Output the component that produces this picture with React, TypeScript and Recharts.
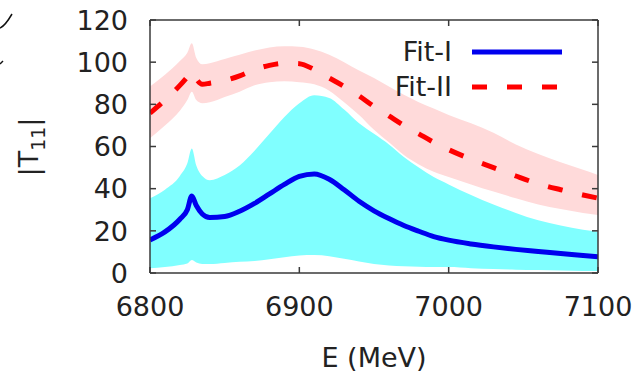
import React from 'react';
import { ComposedChart, Area, Line, XAxis, YAxis, Legend } from 'recharts';

// energies in MeV
const energies = [6800, 6810, 6820, 6825, 6828, 6831, 6835, 6840, 6850, 6860, 6870, 6880, 6890, 6900, 6910, 6920, 6930, 6940, 6950, 6960, 6970, 6980, 6990, 7000, 7015, 7030, 7045, 7060, 7075, 7090, 7100];

// Fit-I central curve and its band
const fit1 = [15.7, 19.5, 25.5, 30, 36.5, 32, 28, 26.3, 26.8, 29.3, 33, 37.5, 42, 45.8, 47, 44.5, 39.5, 34, 29.5, 25.8, 22.5, 19.8, 17.3, 15.6, 13.8, 12.4, 11.2, 10.2, 9.2, 8.3, 7.7];
const fit1Hi = [35.4, 39.5, 46, 52, 59, 51, 46, 44, 46.5, 51, 58, 66, 74, 80.5, 84.3, 83, 77.5, 71, 66, 61, 55, 50, 45.5, 42, 37, 32.5, 28.5, 25, 22.5, 20.5, 19.6];
const fit1Lo = [2.2, 2.8, 3.8, 4.5, 6.2, 5, 4.3, 4.3, 4.8, 5.3, 5.7, 6.5, 7.5, 8.3, 8.5, 8, 6.8, 5.5, 4.3, 3.6, 3.2, 3, 2.8, 2.8, 2.3, 1.9, 1.6, 1.4, 1.2, 1, 1];

// Fit-II central curve and its band
const fit2 = [75.8, 82, 89, 93, 95.5, 92, 89.5, 90, 91.3, 93.5, 96.5, 98.5, 99.5, 99.3, 96.5, 92.5, 88.5, 84, 79, 74.5, 70, 66, 62, 58.5, 54, 50, 46, 42.3, 39.5, 37, 35.5];
const fit2Hi = [88.4, 94, 100.5, 104.5, 109, 102, 99, 99.5, 101.5, 103.5, 105.5, 107, 107.5, 107.3, 106, 103.5, 100, 96, 92.5, 88.5, 84.5, 81, 78, 75, 71, 66.5, 61, 56.5, 52.5, 49, 46.5];
const fit2Lo = [63.9, 70, 77, 82, 86, 82, 80.5, 81, 83.5, 86, 89, 90.5, 91, 90.5, 89.5, 86.5, 81, 75, 68, 62, 56, 51.5, 48, 45.5, 42, 38.6, 35.5, 32.5, 30.3, 28.5, 27.5];

const xTicks = [6800, 6900, 7000, 7100];
const yTicks = [0, 20, 40, 60, 80, 100, 120];

const data = energies.map((e, i) => ({
  e,
  fit1: fit1[i],
  band1: [fit1Lo[i], fit1Hi[i]],
  fit2: fit2[i],
  band2: [fit2Lo[i], fit2Hi[i]],
}));

const FONT = '"DejaVu Sans", sans-serif';
const FRAME = '#3a3a3a';
const TEXT = '#222';

// plot box (gnuplot style frame, ticks point inward on all four sides)
const PLOT_TOP = 20;
const PLOT_RIGHT = 598;
const X_MARGIN = 24;
const Y_MARGIN = 22;
const TICK_LEN = 6;

const XTick = ({ x, y, payload }: any) => {
  const axisY = y - X_MARGIN;
  return (
    <g>
      <line x1={x} x2={x} y1={axisY} y2={axisY - TICK_LEN} stroke={FRAME} strokeWidth={1.5} />
      <line x1={x} x2={x} y1={PLOT_TOP} y2={PLOT_TOP + TICK_LEN} stroke={FRAME} strokeWidth={1.5} />
      <text x={x} y={y} dy="0.71em" textAnchor="middle" fontSize={27} fontFamily={FONT} fill={TEXT}>
        {payload.value}
      </text>
    </g>
  );
};

const YTick = ({ x, y, payload }: any) => {
  const axisX = x + Y_MARGIN;
  return (
    <g>
      <line x1={axisX} x2={axisX + TICK_LEN} y1={y} y2={y} stroke={FRAME} strokeWidth={1.5} />
      <line x1={PLOT_RIGHT - TICK_LEN} x2={PLOT_RIGHT} y1={y} y2={y} stroke={FRAME} strokeWidth={1.5} />
      <text x={x} y={y} dy="0.36em" textAnchor="end" fontSize={27} fontFamily={FONT} fill={TEXT}>
        {payload.value}
      </text>
    </g>
  );
};

const YLabel = () => (
  <text
    transform="translate(38,147) rotate(-90)"
    textAnchor="middle"
    fontSize={27}
    fontFamily={FONT}
    fill={TEXT}
  >
    |T<tspan fontSize={19} dy={7}>11</tspan><tspan dy={-7}>|</tspan>
  </text>
);

const renderLegend = () => (
  <svg width={200} height={80}>
    <g fontFamily={FONT} fontSize={27} fill={TEXT} textAnchor="end">
      <text x={72} y={31}>Fit-I</text>
      <text x={72} y={66}>Fit-II</text>
    </g>
    <line x1={92} x2={182} y1={22} y2={22} stroke="#0000ee" strokeWidth={5} />
    <line x1={92} x2={182} y1={57} y2={57} stroke="#ff0000" strokeWidth={5} strokeDasharray="15 20" />
  </svg>
);

export default function App() {
  return (
    <div style={{ position: 'absolute', left: 0, top: 0, width: 642, height: 377, background: '#fff' }}>
      <svg width={20} height={70} style={{ position: 'absolute', left: 0, top: 0 }}>
        <path d="M0 28 Q5 26 12 14" stroke="#111" strokeWidth={1.5} fill="none" />
        <path d="M0 64 L3 61" stroke="#111" strokeWidth={1.5} fill="none" />
      </svg>
      <ComposedChart
        width={642}
        height={377}
        data={data}
        margin={{ top: PLOT_TOP, right: 642 - PLOT_RIGHT, left: 0, bottom: 0 }}
      >
        <XAxis
          xAxisId="x"
          dataKey="e"
          type="number"
          domain={[6800, 7100]}
          ticks={xTicks}
          allowDataOverflow
          height={104}
          tickLine={false}
          tickSize={0}
          tickMargin={X_MARGIN}
          axisLine={{ stroke: FRAME, strokeWidth: 1.5 }}
          tick={<XTick />}
          label={{ value: 'E (MeV)', position: 'insideBottom', offset: 10, style: { fontSize: 27, fill: TEXT, fontFamily: FONT } }}
        />
        <XAxis
          xAxisId="xt"
          orientation="top"
          dataKey="e"
          type="number"
          domain={[6800, 7100]}
          ticks={xTicks}
          allowDataOverflow
          mirror
          tick={false}
          tickLine={false}
          axisLine={{ stroke: FRAME, strokeWidth: 1.5 }}
        />
        <YAxis
          yAxisId="y"
          type="number"
          domain={[0, 120]}
          ticks={yTicks}
          allowDataOverflow
          width={150}
          tickLine={false}
          tickSize={0}
          tickMargin={Y_MARGIN}
          axisLine={{ stroke: FRAME, strokeWidth: 1.5 }}
          tick={<YTick />}
          label={<YLabel />}
        />
        <YAxis
          yAxisId="yr"
          orientation="right"
          type="number"
          domain={[0, 120]}
          ticks={yTicks}
          allowDataOverflow
          mirror
          tick={false}
          tickLine={false}
          axisLine={{ stroke: FRAME, strokeWidth: 1.5 }}
        />
        <Area
          xAxisId="x"
          yAxisId="y"
          type="monotone"
          dataKey="band2"
          stroke="none"
          fill="#ffdada"
          fillOpacity={1}
          isAnimationActive={false}
          legendType="none"
        />
        <Area
          xAxisId="x"
          yAxisId="y"
          type="monotone"
          dataKey="band1"
          stroke="none"
          fill="#80ffff"
          fillOpacity={1}
          isAnimationActive={false}
          legendType="none"
        />
        <Line
          xAxisId="x"
          yAxisId="y"
          type="monotone"
          dataKey="fit2"
          name="Fit-II"
          stroke="#ff0000"
          strokeWidth={5}
          strokeDasharray="15 20"
          dot={false}
          isAnimationActive={false}
        />
        <Line
          xAxisId="x"
          yAxisId="y"
          type="monotone"
          dataKey="fit1"
          name="Fit-I"
          stroke="#0000ee"
          strokeWidth={5}
          dot={false}
          isAnimationActive={false}
        />
        <Legend
          layout="horizontal"
          verticalAlign="middle"
          align="center"
          content={renderLegend}
          wrapperStyle={{ top: 30, left: 380, width: 200, height: 80 }}
        />
      </ComposedChart>
    </div>
  );
}
